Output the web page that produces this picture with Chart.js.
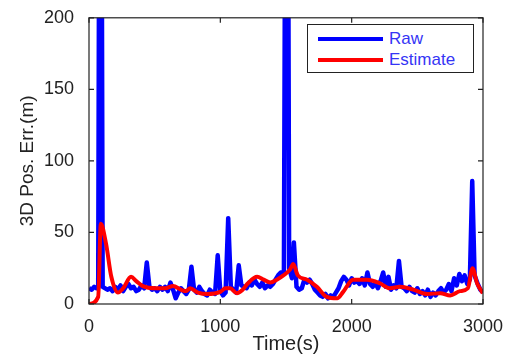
<!DOCTYPE html>
<html>
<head>
<meta charset="utf-8">
<script src="https://cdn.jsdelivr.net/npm/chart.js@4"></script>
<style>
  body { margin: 0; background: #fff; }
  #wrap { position: relative; width: 509px; height: 356px; }
  #legend {
    position: absolute; left: 307px; top: 24px; width: 165px; height: 47px;
    border: 1.5px solid #222; background: #fff;
    font-family: "Liberation Sans", Arial, sans-serif; font-size: 17px; color: #3535f5;
  }
  .row { position: absolute; left: 10px; height: 20px; line-height: 20px; }
  .row span.ln { position: absolute; left: 0; top: 8px; width: 65px; height: 4px; }
  .row span.tx { position: absolute; left: 71px; top: 0; white-space: nowrap; }
</style>
</head>
<body>
<div id="wrap">
  <canvas id="errChart" width="509" height="356"></canvas>
  <div id="legend">
    <div class="row" style="top:4px"><span class="ln" style="background:#0000ff"></span><span class="tx">Raw</span></div>
    <div class="row" style="top:25px"><span class="ln" style="background:#ff0000"></span><span class="tx">Estimate</span></div>
  </div>
</div>
<script>
// 원본 측정값 (Raw)
const rawTime = [
  0, 20, 40, 58, 70, 78, 96, 104,
  140, 160, 180, 200, 220, 240, 260, 280, 300, 320, 340, 360, 380, 400,
  420, 440, 460, 480, 500, 520, 540, 560, 580, 600, 620, 640, 660, 680,
  700, 720, 740, 760, 780, 800, 820, 840, 860, 880, 900, 920, 940, 960,
  980, 1000, 1020, 1040, 1060, 1080, 1100, 1120, 1140, 1160, 1180, 1200,
  1220, 1240, 1260, 1280, 1300, 1320, 1340, 1360, 1380, 1400, 1420, 1440,
  1460, 1484, 1494, 1516, 1524,
  1545, 1560, 1580, 1600, 1620, 1640, 1660, 1680, 1700, 1720, 1740, 1760,
  1780, 1800, 1820, 1840, 1860, 1880, 1900, 1920, 1940, 1960, 1980, 2000,
  2020, 2040, 2060, 2080, 2100, 2120, 2140, 2160, 2180, 2200, 2220, 2240,
  2260, 2280, 2300, 2320, 2340, 2360, 2380, 2400, 2420, 2440, 2460, 2480,
  2500, 2520, 2540, 2560, 2580, 2600, 2620, 2640, 2660, 2680, 2700, 2720,
  2740, 2760, 2780, 2800, 2820, 2840, 2860, 2880, 2900, 2918, 2936, 2960,
  2980, 3000
];
const rawErr = [
  11, 10, 12, 11, 11, 300, 300, 12,
  10, 11, 9, 12, 10, 13, 9, 12, 14, 11, 12, 9, 10, 13,
  11, 29, 12, 10, 11, 9, 12, 10, 12, 9, 15, 10, 4, 8,
  11, 9, 7, 10, 26, 10, 8, 12, 9, 7, 6, 10, 8, 7,
  34, 9, 6, 8, 60, 12, 10, 8, 27, 13, 12, 11,
  15, 13, 17, 14, 12, 15, 11, 13, 12, 14, 17, 20,
  22, 22, 300, 300, 25,
  18, 43, 12, 10, 11, 17, 15, 17, 14, 10, 8, 6,
  5, 7, 4, 6, 5, 8, 11, 16, 19, 17, 13, 18,
  15, 16, 14, 18, 13, 22, 14, 12, 15, 11, 16, 22,
  12, 19, 10, 13, 11, 30, 12, 11, 9, 12, 9, 8,
  11, 7, 9, 6, 10, 5, 8, 6, 9, 11, 8, 10,
  14, 9, 18, 13, 21, 16, 20, 14, 17, 86, 20, 14,
  10, 8
];

// 추정값 (Estimate)
const estTime = [0, 70, 90, 130, 170, 220, 260, 320, 360, 410, 510, 580, 640, 700, 740, 770, 830, 900, 1000, 1040, 1075, 1125, 1170, 1210, 1280, 1330, 1380, 1430, 1480, 1530, 1555, 1590, 1660, 1735, 1810, 1890, 1935, 2010, 2115, 2215, 2290, 2370, 2470, 2575, 2675, 2750, 2825, 2885, 2920, 2955, 3000];
const estErr = [0, 5, 56, 42, 19, 8, 11, 19, 16, 12.5, 11, 11, 12.5, 10, 9, 11, 8, 7, 8.5, 11, 11, 7.5, 10, 14.5, 19, 17, 15, 17, 20, 24, 28, 20, 17, 12, 5, 4, 8.5, 17, 17, 14.5, 11, 12, 10, 7, 7.5, 6, 9, 11, 25, 14.5, 7.5];

const xTicks = [0, 1000, 2000, 3000];
const yTicks = [0, 50, 100, 150, 200];

const font = "'Liberation Sans', Arial, sans-serif";

// MATLAB 스타일 테두리 + 안쪽 눈금
const framePlugin = {
  id: 'frame',
  afterDatasetsDraw(chart) {
    const { ctx, chartArea: a, scales } = chart;
    ctx.save();
    ctx.strokeStyle = '#222';
    ctx.lineWidth = 1.2;
    ctx.strokeRect(a.left, a.top, a.right - a.left, a.bottom - a.top);
    ctx.beginPath();
    xTicks.forEach(v => {
      const x = scales.x.getPixelForValue(v);
      ctx.moveTo(x, a.bottom); ctx.lineTo(x, a.bottom - 5);
      ctx.moveTo(x, a.top); ctx.lineTo(x, a.top + 5);
    });
    yTicks.forEach(v => {
      const y = scales.y.getPixelForValue(v);
      ctx.moveTo(a.left, y); ctx.lineTo(a.left + 5, y);
      ctx.moveTo(a.right, y); ctx.lineTo(a.right - 5, y);
    });
    ctx.stroke();
    ctx.restore();
  }
};

const bgPlugin = {
  id: 'bg',
  beforeDraw(chart) {
    const ctx = chart.ctx;
    ctx.save();
    ctx.fillStyle = '#fff';
    ctx.fillRect(0, 0, chart.width, chart.height);
    ctx.restore();
  }
};

new Chart(document.getElementById('errChart'), {
  type: 'line',
  data: {
    datasets: [
      {
        label: 'Raw',
        data: rawTime.map((t, i) => ({ x: t, y: rawErr[i] })),
        borderColor: '#0000ff',
        borderWidth: 4.5,
        borderJoinStyle: 'round',
        pointRadius: 0,
        tension: 0,
        order: 2
      },
      {
        label: 'Estimate',
        data: estTime.map((t, i) => ({ x: t, y: estErr[i] })),
        borderColor: '#ff0000',
        borderWidth: 4,
        borderJoinStyle: 'round',
        pointRadius: 0,
        cubicInterpolationMode: 'monotone',
        order: 1
      }
    ]
  },
  options: {
    responsive: false,
    animation: false,
    layout: { padding: { left: 0, right: 26, top: 15, bottom: 0 } },
    plugins: { legend: { display: false }, tooltip: { enabled: false } },
    scales: {
      x: {
        type: 'linear',
        min: 0, max: 3000,
        afterBuildTicks: s => { s.ticks = xTicks.map(v => ({ value: v })); },
        afterFit: s => { s.height = 52; },
        grid: { display: false },
        border: { display: false },
        ticks: { color: '#222', font: { family: font, size: 18 }, padding: 4, maxRotation: 0, callback: v => String(v) },
        title: { display: true, text: 'Time(s)', color: '#222', font: { family: font, size: 20 }, padding: 0 }
      },
      y: {
        min: 0, max: 200,
        afterBuildTicks: s => { s.ticks = yTicks.map(v => ({ value: v })); },
        afterFit: s => { s.width = 89; },
        grid: { display: false },
        border: { display: false },
        ticks: { color: '#222', font: { family: font, size: 18 }, padding: 7, callback: v => String(v) },
        title: { display: true, text: '3D Pos. Err.(m)', color: '#222', font: { family: font, size: 19 }, padding: { top: 16, bottom: 16 } }
      }
    }
  },
  plugins: [bgPlugin, framePlugin]
});
</script>
</body>
</html>
